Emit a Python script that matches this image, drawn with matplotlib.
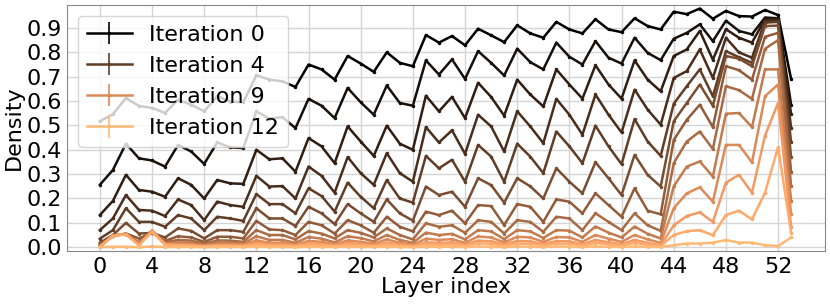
import matplotlib
matplotlib.use("Agg")
import matplotlib.pyplot as plt
import numpy as np

# density per layer (0..53) for pruning iterations 0..12
layers = list(range(54))

iter0 = [.517, .546, .612, .580, .572, .551, .606, .585, .558, .620, .598, .595,
         .706, .688, .681, .658, .750, .730, .688, .785, .754, .720, .800, .757,
         .743, .871, .840, .867, .829, .897, .870, .842, .911, .878, .860, .925,
         .894, .878, .936, .894, .883, .940, .908, .894, .967, .957, .980, .938,
         .970, .949, .947, .974, .953, .691]
iter1 = [.256, .317, .425, .365, .356, .331, .420, .393, .342, .430, .410, .407,
         .558, .528, .534, .489, .609, .581, .530, .654, .595, .544, .664, .592,
         .581, .767, .709, .771, .691, .805, .757, .705, .815, .760, .730, .840,
         .782, .750, .846, .778, .754, .860, .798, .768, .856, .880, .915, .846,
         .930, .888, .874, .943, .940, .585]
iter2 = [.132, .190, .297, .235, .228, .207, .283, .256, .200, .276, .262, .260,
         .400, .361, .365, .310, .448, .414, .345, .496, .434, .375, .499, .425,
         .400, .622, .558, .617, .530, .675, .617, .540, .688, .627, .578, .730,
         .668, .610, .747, .668, .610, .767, .688, .640, .785, .812, .888, .770,
         .895, .860, .840, .936, .935, .545]
iter3 = [.070, .118, .214, .153, .150, .128, .196, .173, .111, .187, .173, .166,
         .293, .249, .251, .200, .331, .293, .224, .370, .304, .256, .386, .304,
         .269, .493, .430, .480, .383, .544, .496, .393, .558, .496, .427, .609,
         .544, .462, .627, .544, .471, .647, .565, .503, .695, .723, .812, .695,
         .860, .800, .778, .929, .930, .490]
iter4 = [.035, .070, .160, .104, .104, .084, .132, .118, .070, .125, .118, .108,
         .218, .177, .177, .139, .242, .210, .146, .265, .207, .160, .276, .200,
         .183, .375, .324, .359, .269, .420, .372, .269, .425, .372, .304, .475,
         .414, .345, .499, .414, .341, .526, .434, .375, .589, .661, .730, .620,
         .805, .780, .757, .922, .925, .430]
iter5 = [.018, .050, .100, .056, .059, .040, .077, .067, .036, .070, .070, .063,
         .160, .118, .118, .087, .166, .139, .095, .177, .139, .104, .196, .139,
         .109, .249, .214, .228, .166, .283, .255, .183, .283, .250, .200, .324,
         .269, .221, .349, .283, .214, .379, .297, .249, .517, .592, .668, .581,
         .785, .774, .743, .908, .910, .370]
iter6 = [.011, .045, .056, .036, .060, .026, .045, .040, .022, .043, .043, .036,
         .108, .073, .070, .050, .104, .090, .056, .111, .090, .059, .125, .084,
         .065, .146, .132, .150, .098, .173, .169, .091, .177, .166, .104, .196,
         .187, .139, .221, .173, .125, .242, .150, .135, .440, .523, .585, .493,
         .743, .727, .688, .864, .880, .310]
iter7 = [.007, .047, .055, .020, .066, .020, .030, .027, .014, .028, .027, .022,
         .070, .050, .050, .032, .066, .056, .036, .070, .059, .040, .077, .050,
         .032, .098, .084, .090, .059, .111, .104, .056, .111, .104, .063, .125,
         .118, .070, .139, .104, .070, .139, .090, .067, .345, .434, .475, .403,
         .661, .645, .609, .815, .850, .250]
iter8 = [.005, .048, .055, .015, .068, .016, .020, .018, .009, .018, .018, .014,
         .045, .030, .030, .018, .042, .035, .020, .045, .037, .024, .050, .030,
         .018, .060, .050, .055, .032, .070, .065, .033, .070, .065, .038, .070,
         .068, .040, .085, .060, .040, .085, .055, .036, .250, .331, .352, .290,
         .548, .551, .493, .730, .730, .190]
iter9 = [.003, .048, .055, .012, .068, .014, .014, .012, .006, .012, .012, .009,
         .028, .018, .018, .010, .026, .022, .012, .028, .022, .014, .032, .018,
         .010, .035, .030, .033, .018, .044, .040, .020, .043, .040, .022, .042,
         .040, .022, .050, .035, .022, .050, .032, .018, .160, .221, .246, .187,
         .420, .420, .348, .620, .668, .135]
iter10 = [.002, .048, .054, .010, .066, .012, .010, .009, .004, .008, .008, .006,
          .018, .011, .011, .006, .016, .013, .007, .017, .013, .008, .019, .011,
          .005, .020, .018, .020, .010, .027, .024, .012, .026, .024, .013, .025,
          .024, .012, .030, .020, .012, .030, .018, .008, .090, .128, .143, .104,
          .265, .297, .224, .458, .592, .085]
iter11 = [.001, .046, .052, .008, .063, .010, .007, .006, .003, .005, .005, .004,
          .011, .007, .007, .004, .010, .008, .004, .010, .008, .005, .012, .007,
          .003, .012, .010, .012, .006, .016, .014, .007, .015, .014, .008, .015,
          .014, .007, .018, .012, .007, .018, .010, .005, .050, .066, .070, .049,
          .132, .150, .114, .224, .411, .060]
iter12 = [.000, .002, .002, .000, .003, .001, .001, .001, .000, .001, .001, .001,
          .002, .001, .001, .000, .002, .001, .001, .002, .001, .001, .002, .001,
          .000, .002, .002, .002, .001, .003, .002, .001, .003, .002, .001, .003,
          .002, .001, .003, .002, .001, .003, .002, .001, .008, .015, .015, .019,
          .029, .019, .019, .008, .005, .040]

density = [iter0, iter1, iter2, iter3, iter4, iter5, iter6,
           iter7, iter8, iter9, iter10, iter11, iter12]
labelled = [0, 4, 9, 12]
err = 0.003

plt.rcParams['font.size'] = 16
fig = plt.figure(figsize=(8.3, 3.04), dpi=100)
ax = fig.add_axes([0.081, 0.174, 0.913, 0.81])

for i, d in enumerate(density):
    c = plt.cm.copper(i / 13)
    lab = f'Iteration {i}' if i in labelled else '_nolegend_'
    ax.errorbar(layers, d, yerr=err, color=c, lw=1.8, marker='.', ms=3,
                elinewidth=1.2, label=lab)

ax.set_xticks(range(0, 53, 4))
ax.set_yticks(np.arange(0, 0.91, 0.1))
ax.set_ylim(-0.016, 0.995)
ax.set_xlim(-2.5, 55.6)
ax.grid(True, color='#d5d5d5', lw=1)
ax.set_axisbelow(True)
for s in ax.spines.values():
    s.set_color('#888888')
ax.tick_params(length=0, pad=4, labelsize=16)
ax.set_xlabel('Layer index', fontsize=16, labelpad=0)
ax.set_ylabel('Density', fontsize=16, labelpad=2)
ax.legend(loc='upper left', fontsize=16, handlelength=2.0)

fig.savefig('out.png', dpi=100)
